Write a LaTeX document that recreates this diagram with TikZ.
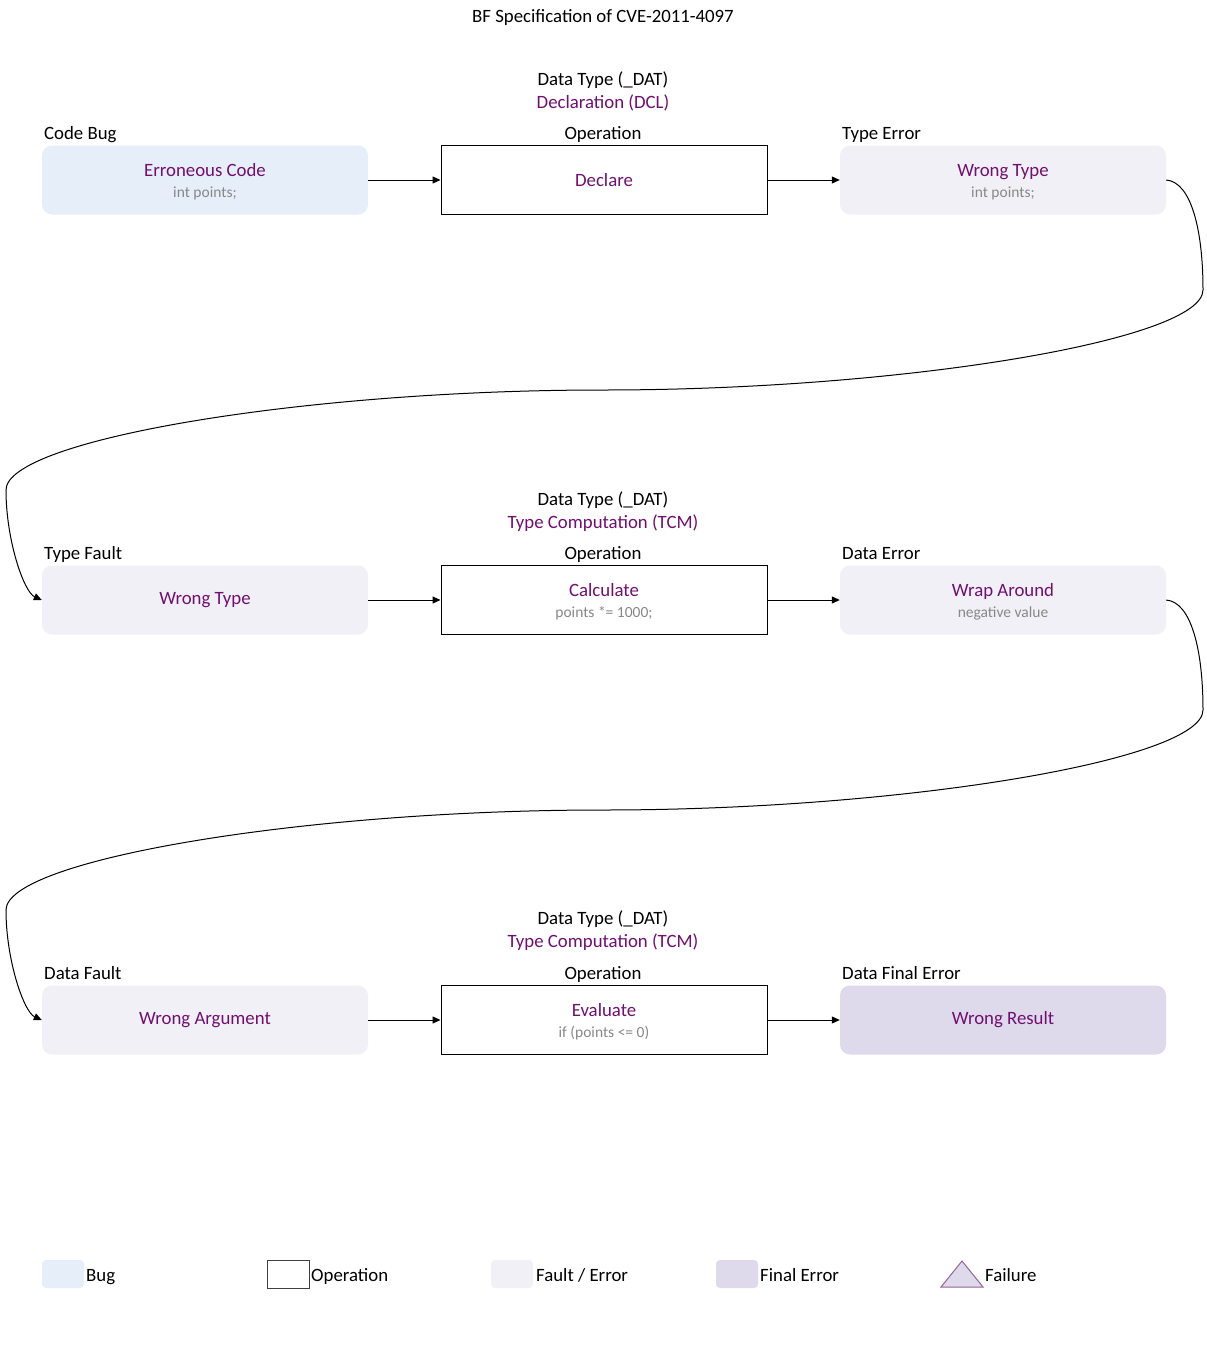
\documentclass[tikz,border=0pt]{standalone}
\usepackage{fontspec}
\setmainfont{Carlito}
\usetikzlibrary{arrows.meta}

\definecolor{bugfill}{RGB}{230,238,250}
\definecolor{faultfill}{RGB}{242,240,247}
\definecolor{finalfill}{RGB}{222,218,235}
\definecolor{purpletext}{RGB}{112,16,112}
\definecolor{graytext}{RGB}{136,136,136}
\definecolor{tristroke}{RGB}{150,100,150}

\newcommand{\mainfont}{\fontsize{18.8}{22}\selectfont}
\newcommand{\subfont}{\fontsize{15.5}{21}\selectfont}

\tikzset{
  box/.style={rectangle, minimum width=326, minimum height=69, inner sep=0,
    align=center, text=purpletext, font=\mainfont},
  bugbox/.style={box, rounded corners=10, fill=bugfill},
  faultbox/.style={box, rounded corners=10, fill=faultfill},
  finalbox/.style={box, rounded corners=10, fill=finalfill},
  opbox/.style={box, draw=black, line width=1},
  caption/.style={inner sep=0, font=\mainfont, text=black, text height=14, text depth=4},
  category/.style={caption, text=purpletext},
  conn/.style={draw=black, line width=1, -{Triangle[length=8,width=7]}},
  swatch/.style={rectangle, minimum width=42, minimum height=28, inner sep=0, rounded corners=4},
  legendtext/.style={caption, anchor=west},
}
% two-line box content: title line plus a smaller grey detail line
\newcommand{\sub}[1]{\rule{0pt}{17pt}\\[-1pt]{\subfont\color{graytext}#1}}

\begin{document}
\begin{tikzpicture}[x=1pt, y=-1pt]
\useasboundingbox[fill=white] (0,0) rectangle (1207,1368);

% title
\node[caption] (title) at (603,17) {BF Specification of CVE-2011-4097};

% ---------- row 1 ----------
\node[caption] (dt1) at (603,80) {Data Type (\_DAT)};
\node[category] (cat1) at (603,103) {Declaration (DCL)};
\node[caption, anchor=west] (lb1a) at (44,134) {Code Bug};
\node[caption] (lb1b) at (603,134) {Operation};
\node[caption, anchor=west] (lb1c) at (842,134) {Type Error};

\node[bugbox] (bug) at (205,180) {Erroneous Code\sub{int points;}};
\node[opbox] (op1) at (604,180) {Declare};
\node[faultbox] (err1) at (1003,180) {Wrong Type\sub{int points;}};

\draw[conn] (bug) -- (op1);
\draw[conn] (op1) -- (err1);

% ---------- row 2 ----------
\node[caption] (dt2) at (603,500) {Data Type (\_DAT)};
\node[category] (cat2) at (603,523) {Type Computation (TCM)};
\node[caption, anchor=west] (lb2a) at (44,554) {Type Fault};
\node[caption] (lb2b) at (603,554) {Operation};
\node[caption, anchor=west] (lb2c) at (842,554) {Data Error};

\node[faultbox] (flt2) at (205,600) {Wrong Type};
\node[opbox] (op2) at (604,600) {Calculate\sub{points *= 1000;}};
\node[faultbox] (err2) at (1003,600) {Wrap Around\sub{negative value}};

\draw[conn] (flt2) -- (op2);
\draw[conn] (op2) -- (err2);

% ---------- row 3 ----------
\node[caption] (dt3) at (603,919) {Data Type (\_DAT)};
\node[category] (cat3) at (603,942) {Type Computation (TCM)};
\node[caption, anchor=west] (lb3a) at (44,974) {Data Fault};
\node[caption] (lb3b) at (603,974) {Operation};
\node[caption, anchor=west] (lb3c) at (842,974) {Data Final Error};

\node[faultbox] (flt3) at (205,1020) {Wrong Argument};
\node[opbox] (op3) at (604,1020) {Evaluate\sub{if (points <= 0)}};
\node[finalbox] (fin) at (1003,1020) {Wrong Result};

\draw[conn] (flt3) -- (op3);
\draw[conn] (op3) -- (fin);

% ---------- curved links between rows ----------
\coordinate (r1a) at (1203,290);
\coordinate (r1b) at (603,390);
\coordinate (r1c) at (6,490);
\coordinate (r2a) at (1203,710);
\coordinate (r2b) at (603,810);
\coordinate (r2c) at (6,910);

\draw[conn] (err1.east) .. controls +(25,2) and +(0,-60) .. (r1a)
  .. controls +(0,50) and +(300,0) .. (r1b)
  .. controls +(-300,0) and +(0,-50) .. (r1c)
  .. controls +(0,50) and +(-18,-8) .. (flt2.west);

\draw[conn] (err2.east) .. controls +(25,2) and +(0,-60) .. (r2a)
  .. controls +(0,50) and +(300,0) .. (r2b)
  .. controls +(-300,0) and +(0,-50) .. (r2c)
  .. controls +(0,50) and +(-18,-8) .. (flt3.west);

% ---------- legend ----------
\node[swatch, fill=bugfill] (lgbug) at (63,1274) {};
\node[legendtext] (lgbugt) at (86,1276) {Bug};
\node[swatch, rounded corners=0, draw=black!75, line width=1] (lgop) at (288,1274) {};
\node[legendtext] (lgopt) at (311,1276) {Operation};
\node[swatch, fill=faultfill] (lgflt) at (512,1274) {};
\node[legendtext] (lgfltt) at (536,1276) {Fault / Error};
\node[swatch, fill=finalfill] (lgfin) at (737,1274) {};
\node[legendtext] (lgfint) at (760,1276) {Final Error};
\draw[fill=finalfill, draw=tristroke, line width=1] (941,1287) -- (962,1261) -- (983,1287) -- cycle;
\node[legendtext] (lgfail) at (985,1276) {Failure};
\end{tikzpicture}
\end{document}
